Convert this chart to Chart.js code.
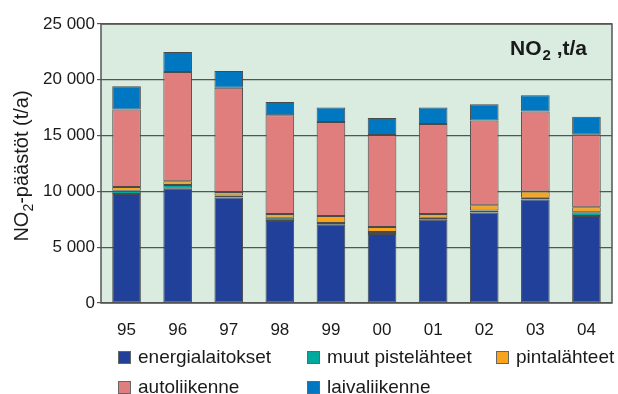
<!DOCTYPE html>
<html>
<head>
<meta charset="utf-8">
<style>
  html, body { margin: 0; padding: 0; background: #fff; }
</style>
<script src="https://cdn.jsdelivr.net/npm/chart.js@4.4.0/dist/chart.umd.min.js"></script>
</head>
<body>
<canvas id="no2" width="618" height="394"></canvas>
<script>
// NO2 emissions by source, t/a
const years = ["95", "96", "97", "98", "99", "00", "01", "02", "03", "04"];
const energialaitokset = [9760, 10230, 9450, 7340, 7010, 6180, 7460, 8110, 9280, 7790];
const muutPistelahteet = [300, 350, 180, 300, 150, 180, 180, 180, 150, 350];
const pintalahteet = [330, 330, 310, 330, 630, 450, 330, 480, 560, 450];
const autoliikenne = [6950, 9800, 9340, 8860, 8420, 8240, 8060, 7575, 7160, 6480];
const laivaliikenne = [2090, 1790, 1500, 1170, 1310, 1520, 1490, 1470, 1470, 1610];
const yTicks = [0, 5000, 10000, 15000, 20000, 25000];

const FONT = "Arial, 'Liberation Sans', sans-serif";
const TEXT = "#1a1a1a";

function series(label, data, color) {
  return {
    label: label,
    data: data,
    backgroundColor: color,
    borderColor: "#4a4a4a",
    borderWidth: 1,
    borderSkipped: false,
    barPercentage: 0.56,
    categoryPercentage: 1,
  };
}

// background, frame, inner title, y title and two-row legend
const decorations = {
  id: "decorations",
  beforeDraw(chart) {
    const { ctx, chartArea: a } = chart;
    ctx.save();
    ctx.fillStyle = "#d9ecdf";
    ctx.fillRect(a.left, a.top, a.right - a.left, a.bottom - a.top);
    ctx.restore();
  },
  afterDatasetsDraw(chart) {
    const { ctx, chartArea: a } = chart;
    ctx.save();
    ctx.strokeStyle = "#555";
    ctx.lineWidth = 1.5;
    ctx.strokeRect(a.left, a.top, a.right - a.left, a.bottom - a.top);
    ctx.restore();
  },
  afterDraw(chart) {
    const { ctx } = chart;
    ctx.save();
    ctx.fillStyle = TEXT;
    ctx.textBaseline = "alphabetic";

    // inner title NO2 ,t/a
    let x = 510, y = 55;
    ctx.font = "bold 21px " + FONT;
    ctx.fillText("NO", x, y);
    x += ctx.measureText("NO").width + 1;
    ctx.font = "bold 15px " + FONT;
    ctx.fillText("2", x, y + 5);
    x += ctx.measureText("2").width;
    ctx.font = "bold 21px " + FONT;
    ctx.fillText(" ,t/a", x, y);

    // y axis title
    ctx.translate(28, 166);
    ctx.rotate(-Math.PI / 2);
    ctx.font = "20px " + FONT;
    const p1 = "NO", p2 = "2", p3 = "-päästöt (t/a)";
    const w1 = ctx.measureText(p1).width;
    const w3 = ctx.measureText(p3).width;
    ctx.font = "14px " + FONT;
    const w2 = ctx.measureText(p2).width;
    let tx = -(w1 + w2 + w3) / 2;
    ctx.font = "20px " + FONT;
    ctx.fillText(p1, tx, 0);
    tx += w1;
    ctx.font = "14px " + FONT;
    ctx.fillText(p2, tx, 5);
    tx += w2;
    ctx.font = "20px " + FONT;
    ctx.fillText(p3, tx, 0);
    ctx.setTransform(1, 0, 0, 1, 0, 0);

    // legend
    const slots = [
      [118, 357], [307, 357], [496, 357],
      [118, 387], [307, 387],
    ];
    ctx.font = "19px " + FONT;
    ctx.textBaseline = "middle";
    chart.data.datasets.forEach((ds, i) => {
      const [lx, ly] = slots[i];
      ctx.fillStyle = ds.backgroundColor;
      ctx.fillRect(lx, ly - 6, 13, 13);
      ctx.strokeStyle = "#666";
      ctx.lineWidth = 1;
      ctx.strokeRect(lx + 0.5, ly - 5.5, 12, 12);
      ctx.fillStyle = TEXT;
      ctx.fillText(ds.label, lx + 20, ly + 1);
    });
    ctx.restore();
  },
};

new Chart(document.getElementById("no2"), {
  type: "bar",
  data: {
    labels: years,
    datasets: [
      series("energialaitokset", energialaitokset, "#21409a"),
      series("muut pistelähteet", muutPistelahteet, "#00a99d"),
      series("pintalähteet", pintalahteet, "#f8a51d"),
      series("autoliikenne", autoliikenne, "#e07e7e"),
      series("laivaliikenne", laivaliikenne, "#0078c1"),
    ],
  },
  options: {
    responsive: false,
    animation: false,
    devicePixelRatio: 1,
    layout: { padding: { top: 24, right: 6, left: 0, bottom: 0 } },
    plugins: {
      legend: { display: false },
      tooltip: { enabled: false },
    },
    scales: {
      x: {
        stacked: true,
        grid: { display: false },
        border: { display: false },
        ticks: { font: { family: FONT, size: 17 }, color: TEXT, padding: 9 },
        afterFit: (s) => { s.height = 91; },
      },
      y: {
        stacked: true,
        min: 0,
        max: 25000,
        afterBuildTicks: (s) => { s.ticks = yTicks.map((v) => ({ value: v })); },
        ticks: {
          font: { family: FONT, size: 17 },
          color: TEXT,
          padding: 2,
          callback: (v) => v === 0 ? "0" : String(v).replace(/(\d)(?=(\d{3})+$)/g, "$1 "),
        },
        grid: { color: "#555", lineWidth: 1.2, tickLength: 4 },
        border: { display: false },
        afterFit: (s) => { s.width = 101; },
      },
    },
  },
  plugins: [decorations],
});
</script>
</body>
</html>
